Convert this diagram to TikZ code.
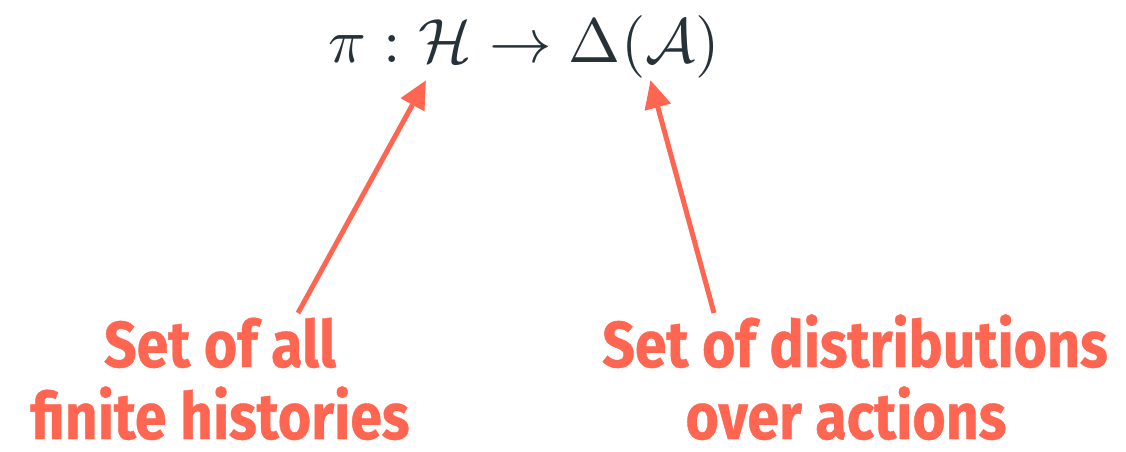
\documentclass[tikz,border=0pt]{standalone}
\usepackage{graphicx}
\usepackage{fontspec}
\newfontfamily\labelfont[FakeStretch=0.88,FakeBold=0.6]{Fira Sans}
\usetikzlibrary{arrows.meta}
\definecolor{coral}{HTML}{FF6652}
\definecolor{ink}{HTML}{263238}
\tikzset{
  lbl/.style={text=coral, font=\labelfont\bfseries\fontsize{65}{70}\selectfont, anchor=base, inner sep=0pt, text depth=0pt},
  pointer/.style={draw=coral, line width=5pt, -{Triangle[length=28pt,width=26pt]}, shorten >=-2pt}
}
\begin{document}
\begin{tikzpicture}[x=1pt,y=-1pt]
\useasboundingbox (0,0) rectangle (1126,452);
\node[anchor=base, text=ink, inner sep=0pt] (f) at (524,63) {\scalebox{6.25}{$\pi : \mathcal{H} \to \Delta(\mathcal{A})$}};
\node[lbl] (l1) at (220,367) {Set of all};
\node[lbl] (l2) at (220,439) {finite histories};
\node[lbl] (r1) at (855,367) {Set of distributions};
\node[lbl] (r2) at (846,439) {over actions};
\coordinate (hs) at (298,313);
\coordinate (ht) at (425,82);
\coordinate (as) at (714,313);
\coordinate (at) at (651,82);
\draw[pointer] (hs) -- (ht);
\draw[pointer] (as) -- (at);
\end{tikzpicture}
\end{document}
